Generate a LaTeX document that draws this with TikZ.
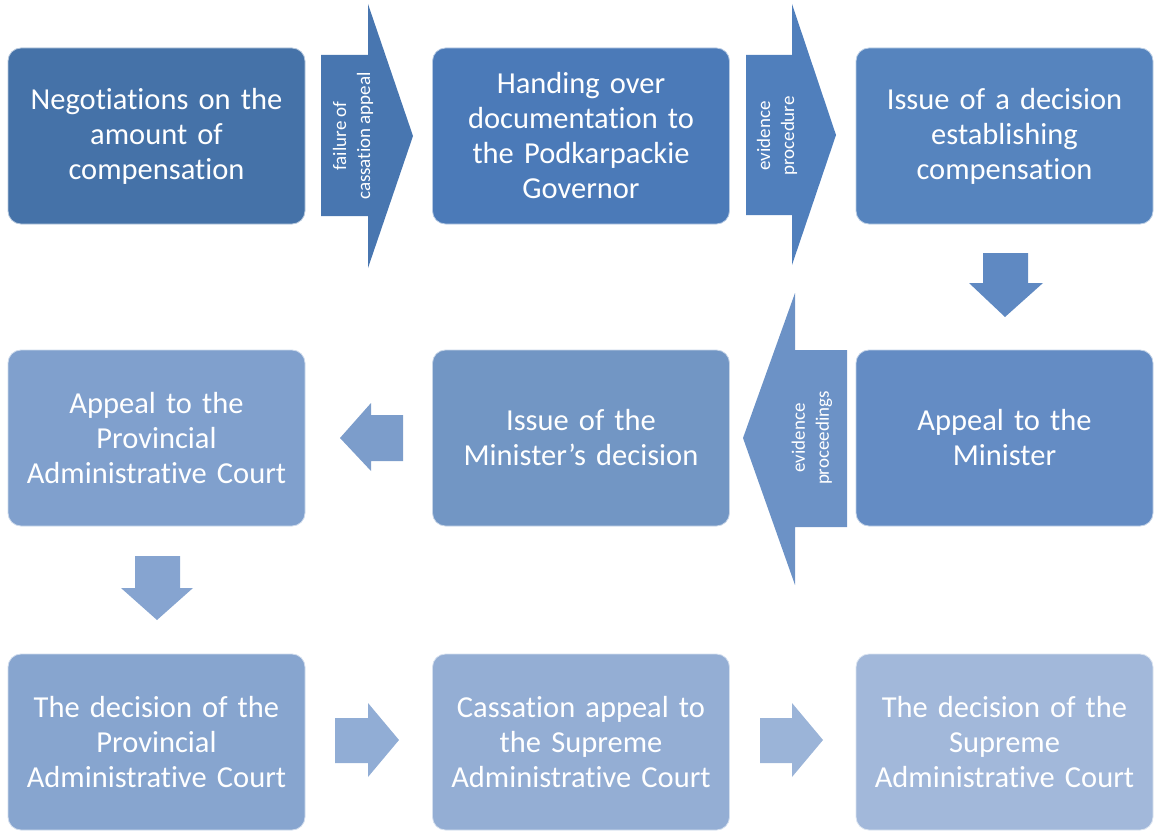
\documentclass[tikz,border=0pt]{standalone}
\usepackage{fontspec}
\setmainfont{Carlito}[Ligatures={NoCommon}]
\usepackage{xcolor}
\usepackage{tikz}
\definecolor{stepa}{RGB}{69,114,168}
\definecolor{arra}{RGB}{72,118,176}
\definecolor{stepb}{RGB}{75,122,184}
\definecolor{arrb}{RGB}{80,127,188}
\definecolor{stepc}{RGB}{86,132,190}
\definecolor{arrc}{RGB}{95,137,194}
\definecolor{stepd}{RGB}{100,140,196}
\definecolor{arrd}{RGB}{108,146,198}
\definecolor{stepe}{RGB}{114,150,196}
\definecolor{arre}{RGB}{124,157,203}
\definecolor{stepf}{RGB}{128,160,205}
\definecolor{arrf}{RGB}{134,164,208}
\definecolor{stepg}{RGB}{135,165,207}
\definecolor{arrg}{RGB}{145,173,213}
\definecolor{steph}{RGB}{148,174,212}
\definecolor{arrh}{RGB}{155,180,216}
\definecolor{stepi}{RGB}{162,184,218}

\tikzset{
    stepbox/.style={
        rounded corners=13pt,
        draw=white!60!#1,
        line width=0.8pt,
        fill=#1,
        text=white,
        minimum width=297pt,
        minimum height=176pt,
        text width=295pt,
        align=center,
        inner sep=0pt,
        font=\fontsize{30.5}{35}\selectfont
    },
    arrowtext/.style={
        text=white,
        rotate=90,
        align=center,
        inner sep=0pt,
        font=\fontsize{19}{24}\selectfont
    }
}

\begin{document}
\begin{tikzpicture}[x=1pt,y=-1pt]

\useasboundingbox (0,0) rectangle (1154,832);

% first row
\node[stepbox=stepa] (negotiations) at (156.5,136)
{Negotiations on the\\amount of\\compensation};
\node[stepbox=stepb] (handing) at (581,136)
{Handing over\\documentation to\\the Podkarpackie\\Governor};
\node[stepbox=stepc] (issuedecision) at (1004.5,136)
{Issue of a decision\\establishing\\compensation};

% second row
\node[stepbox=stepf] (appealcourt) at (156.5,438)
{Appeal to the\\Provincial\\Administrative Court};
\node[stepbox=stepe] (ministerdecision) at (581,438)
{Issue of the\\Minister's decision};
\node[stepbox=stepd] (appealminister) at (1004.5,438)
{Appeal to the\\Minister};

% third row
\node[stepbox=stepg] (courtdecision) at (156.5,742)
{The decision of the\\Provincial\\Administrative Court};
\node[stepbox=steph] (cassation) at (581,742)
{Cassation appeal to\\the Supreme\\Administrative Court};
\node[stepbox=stepi] (supremedecision) at (1004.5,742)
{The decision of the\\Supreme\\Administrative Court};

% block arrows
\fill[arra] (321,55) -- (368,55) -- (368,4) -- (413,136) -- (368,268)
    -- (368,216) -- (321,216) -- cycle;
\node[arrowtext] (failure) at (353,136) {failure of\\cassation appeal};

\fill[arrb] (746,55) -- (792,55) -- (792,4) -- (836,135) -- (792,265)
    -- (792,215) -- (746,215) -- cycle;
\node[arrowtext] (evidence) at (777,136) {evidence\\procedure};

\fill[arrc] (983,253) -- (1028,253) -- (1028,283) -- (1043,283)
    -- (1005,317) -- (969,283) -- (983,283) -- cycle;

\fill[arrd] (847,350) -- (795,350) -- (795,293) -- (743,438) -- (795,585)
    -- (795,527) -- (847,527) -- cycle;
\node[arrowtext] (proceedings) at (812,438) {evidence\\proceedings};

\fill[arre] (403,415) -- (371,415) -- (371,403) -- (340,438) -- (371,471)
    -- (371,461) -- (403,461) -- cycle;

\fill[arrf] (135,556) -- (180,556) -- (180,588) -- (193,588) -- (157,620)
    -- (121,588) -- (135,588) -- cycle;

\fill[arrg] (335,718) -- (368,718) -- (368,703) -- (399,740) -- (368,777)
    -- (368,763) -- (335,763) -- cycle;

\fill[arrh] (760,718) -- (792,718) -- (792,703) -- (823,740) -- (792,777)
    -- (792,763) -- (760,763) -- cycle;

\end{tikzpicture}
\end{document}
